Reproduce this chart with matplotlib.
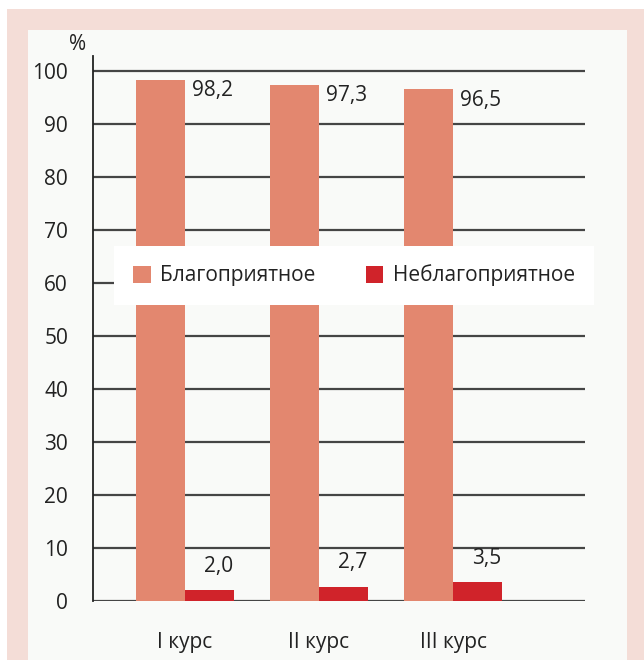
import matplotlib
matplotlib.use("Agg")
import matplotlib.pyplot as plt
from matplotlib.patches import Rectangle, Patch
import numpy as np

categories = ["I курс", "II курс", "III курс"]
favorable = [98.2, 97.3, 96.5]
unfavorable = [2.0, 2.7, 3.5]
fav_labels = ["98,2", "97,3", "96,5"]
unfav_labels = ["2,0", "2,7", "3,5"]
series_names = ["Благоприятное", "Неблагоприятное"]
yticks = [0, 10, 20, 30, 40, 50, 60, 70, 80, 90, 100]

plt.rcParams['font.family'] = ['Open Sans', 'DejaVu Sans']

W, H = 644, 660
fig = plt.figure(figsize=(W / 100, H / 100), dpi=100)
fig.patch.set_facecolor("white")

def px_rect(x0, y0, x1, y1, color):
    fig.patches.append(Rectangle((x0 / W, 1 - y1 / H), (x1 - x0) / W, (y1 - y0) / H,
                                 transform=fig.transFigure, facecolor=color,
                                 edgecolor="none", zorder=-10))

px_rect(7, 9, 644, 660, "#f4ddd7")
px_rect(28, 30, 627, 660, "#f9faf8")

ax = fig.add_axes([93 / W, 1 - 601 / H, (585 - 93) / W, (601 - 56) / H])
ax.set_facecolor("none")

orange = "#e3876f"
red = "#d0232a"
x = np.arange(len(categories))
bw = 0.365
ax.bar(x - bw / 2, favorable, bw, color=orange, zorder=3)
ax.bar(x + bw / 2, unfavorable, bw, color=red, zorder=3)

ax.set_xlim(-0.687, 2.985)
ax.set_ylim(0, 102.8)

for yv in yticks:
    ax.axhline(yv, color="#454545", lw=1.6, zorder=1)

for s in ["top", "right", "bottom"]:
    ax.spines[s].set_visible(False)
ax.spines["left"].set_color("#222222")
ax.spines["left"].set_linewidth(1.3)

ax.set_yticks(yticks)
ax.set_yticklabels([str(v) for v in yticks], fontsize=15, color="#222222")
ax.tick_params(axis="y", length=0, pad=18)
ax.set_xticks(x)
ax.set_xticklabels(categories, fontsize=15, color="#222222")
ax.tick_params(axis="x", length=0, pad=22)

for i in range(len(categories)):
    ax.text(x[i] + 0.05, favorable[i] - 2.0, fav_labels[i], ha="left", va="center",
            fontsize=15, color="#222222", zorder=4)
    ax.text(x[i] + bw / 2 + 0.07, unfavorable[i] + 4.5, unfav_labels[i], ha="center",
            va="center", fontsize=15, color="#222222", zorder=4)

fig.text(78 / W, 1 - 44 / H, "%", ha="center", va="center", fontsize=15, color="#222222")

handles = [Patch(facecolor=orange, edgecolor="none"), Patch(facecolor=red, edgecolor="none")]
leg = ax.legend(handles, series_names, ncol=2, loc="center",
                bbox_to_anchor=((111 + 597) / 2 / W, 1 - 275.5 / H),
                bbox_transform=fig.transFigure, frameon=True, fancybox=False,
                fontsize=15, handlelength=0.85, handleheight=0.85, handletextpad=0.45,
                columnspacing=2.4, borderpad=0.9, borderaxespad=0)
leg.get_frame().set_facecolor("white")
leg.get_frame().set_edgecolor("none")
leg.get_frame().set_alpha(1)
leg.set_zorder(10)
for t in leg.get_texts():
    t.set_color("#222222")

fig.savefig("out.png", dpi=100)
